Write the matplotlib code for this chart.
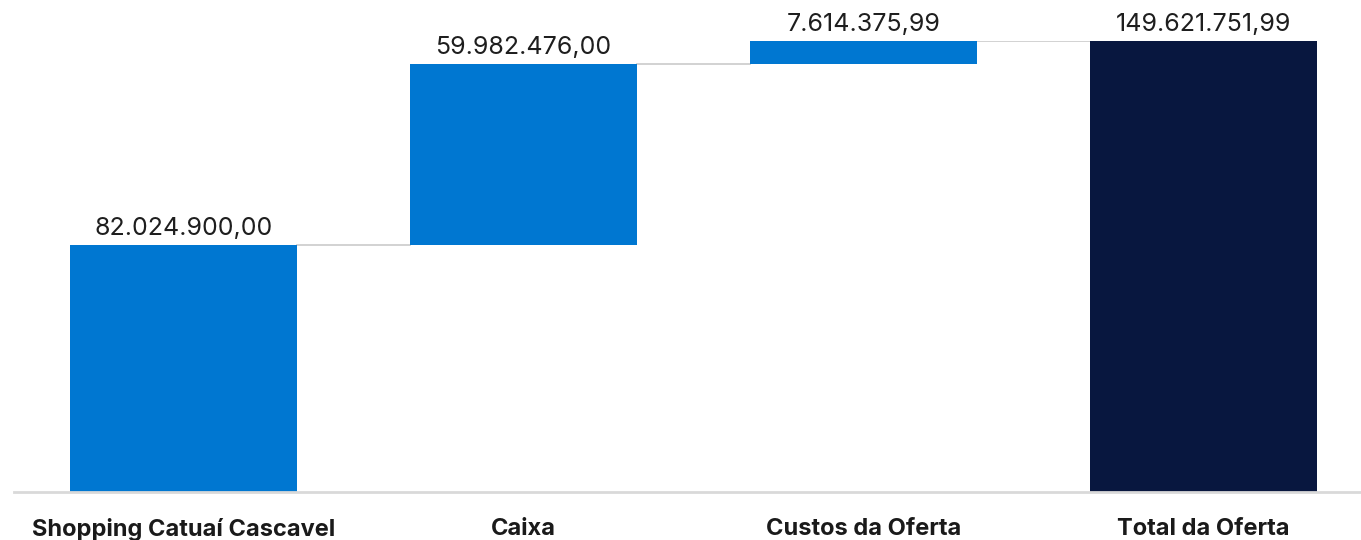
import matplotlib
matplotlib.use("Agg")
import matplotlib.pyplot as plt

categorias = ["Shopping Catuaí Cascavel", "Caixa", "Custos da Oferta", "Total da Oferta"]
valores = [82024900.00, 59982476.00, 7614375.99]
total = 149621751.99

azul = "#0077D1"
marinho = "#08173F"

plt.rcParams['font.family'] = ['Inter', 'DejaVu Sans']


def fmt_br(v):
    s = "{:,.2f}".format(v)
    return s.replace(",", "X").replace(".", ",").replace("X", ".")


fig = plt.figure(figsize=(13.61, 5.40), dpi=100)
ax = fig.add_axes([14 / 1361, 48 / 540, 1 - 14 / 1361, 451 / 540])

largura = 0.667
base = 0
topos = []
for i, v in enumerate(valores):
    ax.bar(i, v, bottom=base, width=largura, color=azul, zorder=2)
    base += v
    topos.append(base)
    ax.text(i, base + total * 0.01, fmt_br(v), ha="center", va="bottom",
            fontsize=18, color="#1e1e1e")

n = len(valores)
ax.bar(n, total, width=largura, color=marinho, zorder=2)
ax.text(n, total + total * 0.01, fmt_br(total), ha="center", va="bottom",
        fontsize=18, color="#1e1e1e")

# linhas de ligação entre as barras
for i, t in enumerate(topos):
    ax.plot([i + largura / 2, i + 1 - largura / 2], [t, t],
            color="#cfcfcf", lw=1.3, zorder=1)

ax.set_xlim(-0.4985, (1361 - 183.5) / 340)
ax.set_ylim(0, total)
ax.set_xticks(range(len(categorias)))
ax.set_xticklabels(categorias, fontsize=17, fontweight="bold", color="#1a1a1a")
ax.tick_params(axis="x", length=0, pad=19)
ax.set_yticks([])
for s in ["top", "right", "left"]:
    ax.spines[s].set_visible(False)
ax.spines["bottom"].set_color("#d9d9d9")
ax.spines["bottom"].set_linewidth(2)

fig.savefig("out.png", dpi=100, facecolor="white")
